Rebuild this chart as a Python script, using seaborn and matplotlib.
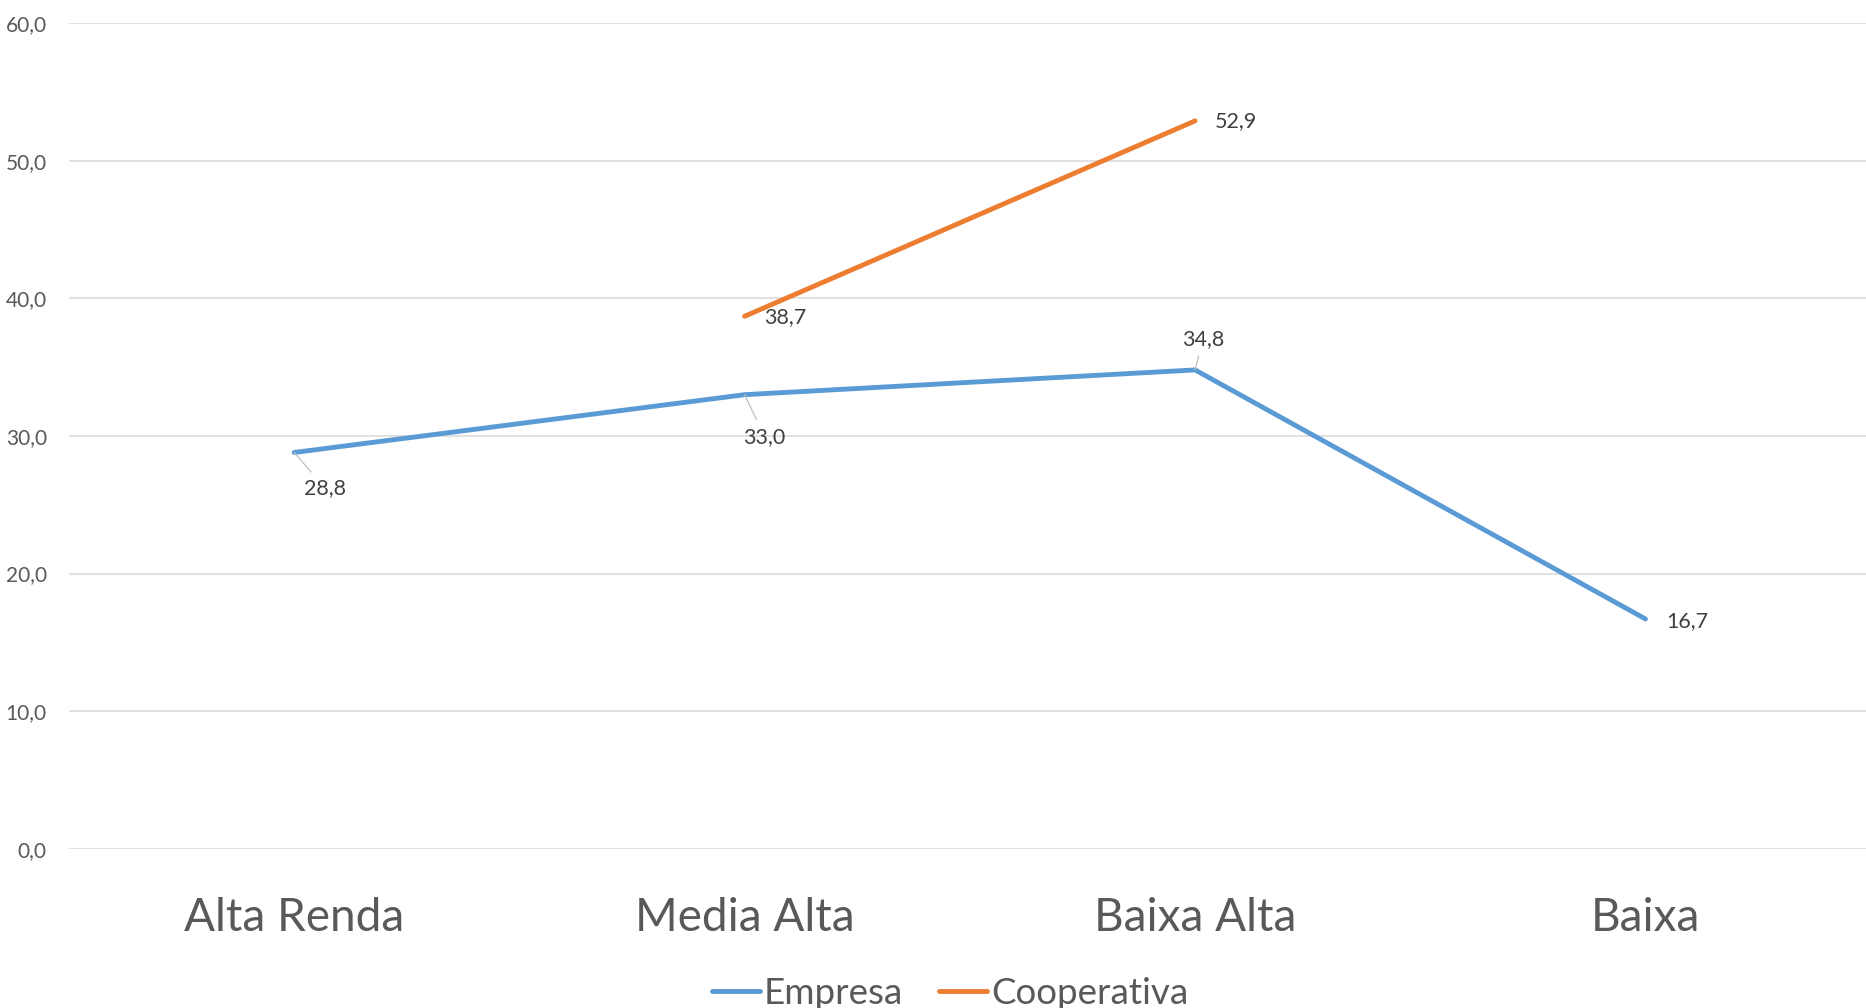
import pandas as pd
import matplotlib.pyplot as plt
import seaborn as sns
import numpy as np

# Categories and series values
categorias = ['Alta Renda', 'Media Alta', 'Baixa Alta', 'Baixa']
empresa = [28.8, 33.0, 34.8, 16.7]
cooperativa = [np.nan, 38.7, 52.9, np.nan]
series = ['Empresa', 'Cooperativa']
cores = ['#5B9BD5', '#ED7D31']
y_ticks = [0, 10, 20, 30, 40, 50, 60]

# Long-form dataframe for seaborn
pos = np.arange(len(categorias))
df = pd.DataFrame({
    'pos': np.concatenate([pos, pos]),
    'valor': empresa + cooperativa,
    'serie': [series[0]] * len(categorias) + [series[1]] * len(categorias),
})

sns.set_style('white')
plt.rcParams['font.family'] = ['Lato', 'DejaVu Sans']

fig = plt.figure(figsize=(18.66, 10.08), dpi=100)
ax = fig.add_axes([0.037, 0.158, 0.9655, 0.819])

sns.lineplot(data=df, x='pos', y='valor', hue='serie', palette=cores,
             hue_order=series, estimator=None, linewidth=3.5, ax=ax,
             solid_capstyle='round')

ax.set_xlim(-0.5, len(categorias) - 0.5)
ax.set_ylim(0, 60)
ax.set_yticks(y_ticks)
ax.set_yticklabels([f'{v:.1f}'.replace('.', ',') for v in y_ticks],
                   fontsize=15, color='#595959')
ax.set_xticks(pos)
ax.set_xticklabels(categorias, fontsize=33, color='#595959')
ax.tick_params(axis='x', length=0, pad=35)
ax.tick_params(axis='y', length=0, pad=16)
ax.grid(axis='y', color='#d9d9d9', linewidth=1.1)
ax.set_axisbelow(True)
for s in ax.spines.values():
    s.set_visible(False)
ax.set_xlabel('')
ax.set_ylabel('')

# Data labels (offsets in pixels, leader line where Excel drew one)
rotulos = {
    ('Empresa', 0): ((31, -36), True),
    ('Empresa', 1): ((20, -42), True),
    ('Empresa', 2): ((8, 31), True),
    ('Empresa', 3): ((42, -2), False),
    ('Cooperativa', 1): ((41, -1), False),
    ('Cooperativa', 2): ((41, 0), False),
}
valores = {'Empresa': empresa, 'Cooperativa': cooperativa}
for (serie, i), (off, linha) in rotulos.items():
    v = valores[serie][i]
    props = None
    if linha:
        props = dict(arrowstyle='-', color='#bfbfbf', lw=0.9,
                     shrinkA=3, shrinkB=0)
    ax.annotate(f'{v:.1f}'.replace('.', ','), xy=(pos[i], v),
                xytext=off, textcoords='offset pixels',
                ha='center', va='center', fontsize=15.5, color='#404040',
                arrowprops=props)

# Legend at the bottom
leg = ax.legend(loc='center', bbox_to_anchor=(0.489, -0.175), ncol=2,
                frameon=False, fontsize=26.5, handlelength=1.3,
                handletextpad=0.1, columnspacing=1.0)
for t in leg.get_texts():
    t.set_color('#595959')
for h in leg.get_lines():
    h.set_linewidth(3.5)

plt.savefig('out.png', dpi=100)
